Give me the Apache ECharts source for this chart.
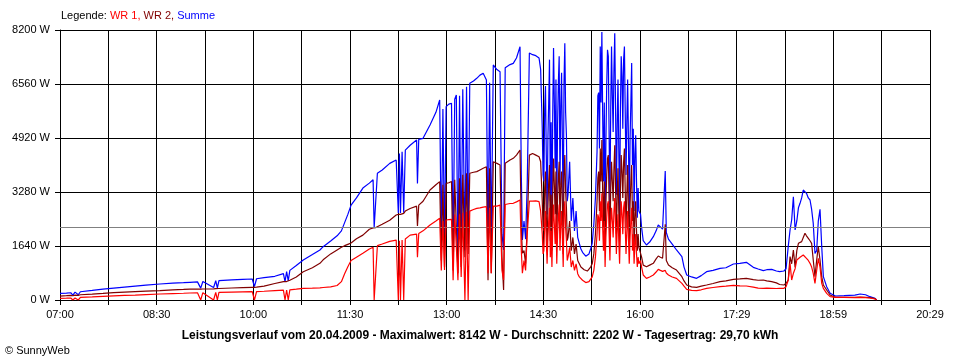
<!DOCTYPE html>
<html><head><meta charset="utf-8">
<script src="https://cdn.jsdelivr.net/npm/echarts@6/dist/echarts.min.js"></script>
<style>html,body{margin:0;padding:0;background:#fff}#c{width:960px;height:360px}</style>
</head><body><div id="c"></div>
<script>
// ---- data ----
const xTickLabels = ['07:00','08:30','10:00','11:30','13:00','14:30','16:00','17:29','18:59','20:29'];
const yMax = 8200;
const yStep = 1640;
const average = 2202;
const seriesNames = ['WR 1', 'WR 2', 'Summe'];
const titleText = 'Leistungsverlauf vom 20.04.2009 - Maximalwert: 8142 W - Durchschnitt: 2202 W - Tagesertrag: 29,70 kWh';
const copyright = '\u00A9 SunnyWeb';

// minutes after 07:00
const minutes = [
0,6,10,12,14,17,19,30,40,50,60,70,80,93,105,115,121,128,131,133,143,145,146.5,148,160,170,179,181,183,190,200,208,209.5,211,212.5,214,220,226.5,235,242,245,252,258,262,265,268,271,276,282,288,291.5,292.5,294,295.5,300,307,313,315,316,317,318.5,320,321.5,326,332,332.8,334,338,344.5,350,353.5,355,356.5,358,359.5,362,364.5,366,367.5,369,370.5,372,373.5,375,377,378.5,380,381.5,385,388,391,394,397,398.5,400,401.5,403.4,406.8,409.7,411.5,413,414.5,416,419,422,425,428.3,429.5,430.5,432,433.5,435,437,440,443,446,447.5,
449,449.75,450.5,451.25,452,452.75,453.5,454.25,455,455.75,456.5,457.25,458,458.75,459.5,460.25,461,461.75,462.5,463.25,464,464.75,465.5,466.25,467,467.75,468.5,469.25,470,470.75,471.5,472.25,473,474.5,476,477.5,479,480.5,482,483.5,485,486.5,488,489.5,491,492.5,494,495.5,497,498.5,
500,500.75,501.5,502.25,503,503.75,504.5,505.25,506,506.75,507.5,508.25,509,509.75,510.5,511.25,512,512.75,513.5,514.25,515,515.75,516.5,517.25,518,518.75,519.5,520.25,521,521.75,522.5,523.25,524,524.75,525.5,526.25,527,527.75,528.5,529.25,530,530.75,531.5,532.25,533,533.75,534.5,535.25,536,536.75,537.5,538.25,539,540.5,
541.5,543,546,549,552.4,555,557,559,561,562.5,563.5,564.5,566.5,570,574,579,581,583.5,588,592.7,597,602,608,614.5,620,627,633,639,645.5,650,654.8,658,662.6,667,670,674,676,678,679.7,681.2,682.8,684.4,686,687.5,689,690.5,692,693.6,695,696.7,698.3,699.8,701.3,702.9,704.5,706,707.6,709.2,710.7,713.8,717,722,730,740,745,750,754,758.8,760.3
];
const wr1 = [
50,55,60,0,60,0,80,95,110,125,140,150,165,182,195,205,212,220,0,223,0,230,0,232,240,247,253,0,255,265,285,300,0,304,0,310,330,355,360,370,380,400,440,557,800,1012,1200,1300,1420,1550,1600,0,0,1650,1700,1780,1820,0,1800,0,1820,0,1850,1970,2000,1300,2020,2100,2280,2400,2480,900,2400,911,2430,2440,2450,600,2600,2632,600,2600,700,2650,0,2683,0,2700,2750,2784,2800,2820,2835,810,2800,810,2850,2850,2880,900,609,2900,2936,2930,2936,2980,3037,1500,812,1200,900,2000,3000,3000,3010,2990,2700,
2000,1400,1500,2300,2700,1800,1100,1900,2400,2800,1300,2100,1000,2200,2900,2300,1700,2600,1100,2000,2500,2900,1500,2300,2700,1900,1000,2600,3000,2200,1800,1200,1300,1600,1000,1200,900,1100,800,700,650,600,560,530,520,557,600,700,900,1300,
2000,2600,2500,1800,3000,2400,3240,2200,1500,2400,1000,1900,2500,2900,3000,2000,1200,2300,2800,2400,1900,2700,3100,2300,1400,2100,2600,1800,1100,2200,3000,2600,2000,2800,3000,2200,1400,2100,2700,1900,1100,1900,2400,2800,1500,2000,1100,1700,2000,1400,1000,1300,1100,1200,
1000,760,658,700,759,850,931,900,870,860,900,820,759,700,658,506,420,324,290,284,310,355,380,405,420,445,430,425,390,360,355,360,355,350,355,355,405,600,1114,608,810,950,1215,1250,1300,1340,1367,1350,1266,1200,1114,1000,810,506,900,1266,1000,506,355,203,101,81,81,75,81,70,60,30,0
];
const wr2 = [
120,130,140,130,150,140,160,180,200,225,240,255,270,284,305,320,330,334,330,334,340,345,340,350,365,375,385,385,390,420,500,560,540,560,560,600,700,860,980,1114,1220,1400,1520,1600,1650,1690,1730,1860,1970,2150,2190,2180,2200,2250,2300,2420,2580,2600,2620,2600,2650,2630,2700,2780,2850,2250,2880,3000,3340,3500,3594,1200,3500,1000,3540,3560,3600,900,3650,3695,812,3700,1000,3800,1300,3847,1400,3850,3880,3898,3950,4000,4049,600,4000,811,4200,4150,4100,1300,306,4150,4200,4250,4303,4400,4556,2200,1419,1500,1100,2200,4400,4450,4400,4350,4200,
3000,2200,2100,3400,3900,2600,1500,2800,3600,4100,1800,3200,1500,3300,4300,3500,2600,3900,1700,3100,3700,4200,2200,3500,3900,2900,1400,3800,4400,3300,2800,1800,1900,2400,1500,1900,1400,1700,1200,1100,1000,950,920,900,880,911,1000,1100,1400,2000,
3000,3700,3900,2700,4600,3600,4860,3300,2200,3600,1500,2900,3800,4300,4400,3000,1800,3400,4200,3600,3000,4000,4700,3400,2000,3100,4000,2700,1600,3300,4400,3900,3100,4200,4600,3300,2200,3200,4100,2800,1700,2900,3600,4100,2400,3000,1600,2600,3000,2100,1500,2000,1600,1550,
1300,1060,1012,1060,1114,1250,1336,1300,1270,1250,2300,1200,1063,980,911,708,580,455,400,385,420,455,500,557,580,628,640,658,620,600,607,580,557,520,470,455,507,608,1316,1100,1519,1000,1500,1721,1750,1772,1900,2025,1950,1873,1800,1721,1215,709,1215,1620,1215,700,456,304,152,81,81,81,90,81,70,40,0
];
const summe = [
200,210,220,150,240,160,250,290,330,360,390,420,450,486,510,525,537,550,360,560,380,585,370,590,610,625,638,410,645,680,720,800,560,860,580,900,1050,1215,1380,1519,1620,1790,1950,2100,2350,2600,2880,3100,3400,3550,3650,2200,2230,3850,3950,4150,4250,2640,4450,2640,4500,2650,4550,4700,4860,3540,4880,4910,5315,5700,6074,1700,5800,1600,5872,5950,5973,1400,6100,6226,1100,6200,1500,6400,1500,6478,1700,6580,6650,6733,6830,6884,6682,1620,6600,1700,7137,7000,6935,2000,1520,7050,7086,7150,7188,7350,7693,3800,1824,2400,1850,3500,7500,7450,7420,7350,7000,
5200,3800,3600,5800,6500,4400,2600,4900,6000,7300,3000,5400,2300,5600,7650,6000,4000,6700,2600,5300,6600,7400,3500,5900,6900,4800,2400,6600,7800,5700,5000,3000,3200,4200,2400,3100,2100,2700,1900,1720,1550,1450,1400,1330,1316,1400,1550,1720,2300,3100,
4500,6200,6300,4600,7700,6000,8142,5600,3600,6000,2300,4800,6500,7600,7400,5000,2900,5800,7700,6200,5100,7000,8100,5800,3200,5300,6700,4600,2500,5700,7400,6800,5200,7300,7700,5700,3800,5400,6700,4800,2600,4900,6000,7200,4100,5200,2700,4400,5000,3600,2500,3400,2700,2600,
2200,1800,1670,1760,1923,2100,2278,2220,2150,2120,3918,2050,1850,1700,1519,1316,1000,759,700,658,740,860,900,962,980,1093,1110,1144,992,940,890,920,931,880,860,880,950,1620,2126,2430,3138,2126,2400,2800,2936,3100,3340,3391,3240,3100,3037,2750,2328,1417,1500,2400,2753,1620,710,405,203,122,130,150,183,160,101,51,0
];

// ---- chart ----
const FONT = '"Liberation Sans", Arial, sans-serif';
const colors = { 'WR 1': '#ff0000', 'WR 2': '#800000', 'Summe': '#0000ff' };
const valuesByName = { 'WR 1': wr1, 'WR 2': wr2, 'Summe': summe };
const pairs = vals => minutes.map((m, i) => [m, vals[i]]);

const chart = echarts.init(document.getElementById('c'), null, { renderer: 'canvas' });
const drawOrder = ['Summe', 'WR 2', 'WR 1'];
const series = drawOrder.map((name, k) => ({
  name, type: 'line', data: pairs(valuesByName[name]),
  symbol: 'none', showSymbol: false, smooth: false,
  lineStyle: { color: colors[name], width: 1.2 },
  itemStyle: { color: colors[name] },
  z: 3 + k, silent: true
}));
series[0].markLine = {
  silent: true, symbol: 'none', animation: false,
  label: { show: false },
  lineStyle: { color: '#808080', width: 1, type: 'solid' },
  data: [{ yAxis: average }]
};

const legendRich = { k: { color: '#000000', fontSize: 11, fontFamily: FONT } };
let legendText = '{k|Legende: }';
seriesNames.forEach((n, i) => {
  const key = 's' + i;
  legendRich[key] = { color: colors[n], fontSize: 11, fontFamily: FONT };
  legendText += '{' + key + '|' + n + (i < seriesNames.length - 1 ? ', ' : '') + '}';
});

chart.setOption({
  animation: false,
  backgroundColor: '#ffffff',
  grid: { left: 60, right: 30, top: 30, bottom: 60, containLabel: false },
  title: [
    { text: legendText, left: 61, top: 10, padding: 0,
      textStyle: { fontSize: 11, fontWeight: 'normal', fontFamily: FONT, rich: legendRich } },
    { text: titleText, left: 'center', top: 330, padding: 0,
      textStyle: { fontSize: 12, fontWeight: 'bold', color: '#000', fontFamily: FONT } },
    { text: copyright, left: 5, top: 345, padding: 0,
      textStyle: { fontSize: 11, fontWeight: 'normal', color: '#000', fontFamily: FONT } }
  ],
  xAxis: {
    type: 'value', min: 0, max: 810, interval: 45,
    axisLine: { show: true, lineStyle: { color: '#000', width: 1 } },
    axisTick: { show: true, length: 5, lineStyle: { color: '#000' } },
    axisLabel: {
      color: '#000', fontSize: 11, fontFamily: FONT, margin: 9,
      formatter: v => (v % 90 === 0 ? xTickLabels[v / 90] : '')
    },
    splitLine: { show: true, lineStyle: { color: '#000', width: 1 } }
  },
  yAxis: {
    type: 'value', min: 0, max: yMax, interval: yStep,
    axisLine: { show: true, lineStyle: { color: '#000', width: 1 } },
    axisTick: { show: true, length: 5, lineStyle: { color: '#000' } },
    axisLabel: { color: '#000', fontSize: 11, fontFamily: FONT, margin: 10, formatter: v => v + ' W' },
    splitLine: { show: true, lineStyle: { color: '#000', width: 1 } }
  },
  series
});
</script></body></html>
